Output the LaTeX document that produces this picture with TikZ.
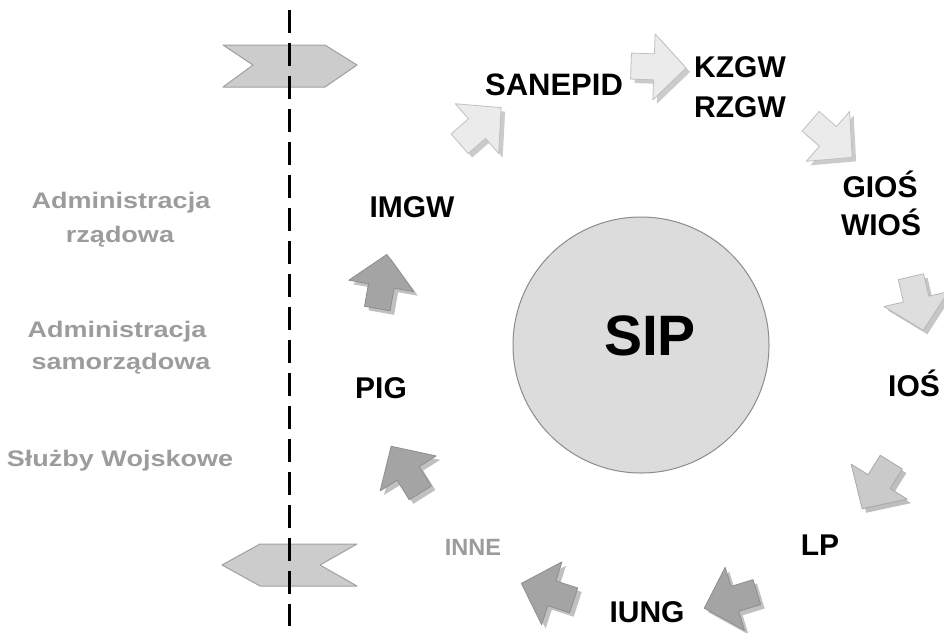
\documentclass[tikz,border=0pt]{standalone}
\usepackage{fontspec}
\setmainfont{Liberation Sans}
\newfontfamily\widesans[FakeStretch=1.2]{Liberation Sans}
\definecolor{sidegray}{HTML}{9C9C9C}
\definecolor{chevfill}{HTML}{CCCCCC}
\definecolor{chevdraw}{HTML}{A0A0A0}
\definecolor{circfill}{HTML}{DCDCDC}
\definecolor{circdraw}{HTML}{8C8C8C}
\definecolor{aLightF}{HTML}{EBEBEB}
\definecolor{aLightD}{HTML}{C0C0C0}
\definecolor{aLightS}{HTML}{CBCBCB}
\definecolor{aMidF}{HTML}{DEDEDE}
\definecolor{aMidD}{HTML}{B8B8B8}
\definecolor{aMidS}{HTML}{C6C6C6}
\definecolor{aMid2F}{HTML}{CACACA}
\definecolor{aMid2D}{HTML}{A8A8A8}
\definecolor{aMid2S}{HTML}{BEBEBE}
\definecolor{aDarkF}{HTML}{A4A4A4}
\definecolor{aDarkD}{HTML}{8E8E8E}
\definecolor{aDarkS}{HTML}{C0C0C0}
\newcommand{\cyclearrow}[5]{%
  \begin{scope}[shift={#1}]
    \fill[#5, shift={(4,4)}, rotate=#2] (-27,13) -- (-4,13) -- (-4,33) -- (28,0) -- (-4,-33) -- (-4,-13) -- (-27,-13) -- cycle;
    \filldraw[fill=#3, draw=#4, line width=0.8pt, line join=round, rotate=#2] (-27,13) -- (-4,13) -- (-4,33) -- (28,0) -- (-4,-33) -- (-4,-13) -- (-27,-13) -- cycle;
  \end{scope}}
\tikzset{
  lbl/.style={font=\fontsize{30}{36}\selectfont\bfseries, anchor=base, inner sep=0pt},
  side/.style={font=\widesans\fontsize{22.5}{27}\selectfont\bfseries, text=sidegray, anchor=base, inner sep=0pt},
  chev/.style={fill=chevfill, draw=chevdraw, line width=1pt, line join=round},
}
\begin{document}
\begin{tikzpicture}[x=1pt, y=-1pt]
\useasboundingbox (0,0) rectangle (944,632);
\fill[white] (0,0) rectangle (944,632);

% chevrons
\draw[chev] (223,45) -- (325,45) -- (357,65) -- (325,87) -- (223,87) -- (253,65) -- cycle;
\draw[chev] (260,544) -- (357,544) -- (320,565) -- (357,586) -- (260,586) -- (222,565) -- cycle;

% dashed divider
\coordinate (divtop) at (289,10);
\coordinate (divbot) at (289,626);
\draw[black, line width=3pt, dash pattern=on 23pt off 10pt] (divtop) -- (divbot);

% left labels
\node[side] (ar1) at (121,208) {Administracja};
\node[side] (ar2) at (120,242) {rządowa};
\node[side] (as1) at (117,337) {Administracja};
\node[side] (as2) at (121,369) {samorządowa};
\node[side] (sw) at (120,466) {Służby Wojskowe};

% central circle
\node[circle, fill=circfill, draw=circdraw, line width=1pt, minimum size=256pt, inner sep=0pt] (sipc) at (641,345) {};
\node[font=\fontsize{57}{60}\selectfont\bfseries, anchor=base, inner sep=0pt] (sip) at (650,355) {SIP};

% cycle labels
\node[lbl] (imgw) at (412,217) {IMGW};
\node[lbl, font=\fontsize{31}{36}\selectfont\bfseries] (sanepid) at (554,95) {SANEPID};
\node[lbl] (kzgw) at (740,77) {KZGW};
\node[lbl] (rzgw) at (740,117) {RZGW};
\node[lbl] (gios) at (880,197) {GIOŚ};
\node[lbl] (wios) at (881,235) {WIOŚ};
\node[lbl] (ios) at (914,396) {IOŚ};
\node[lbl] (lp) at (820,555) {LP};
\node[lbl] (iung) at (647,622) {IUNG};
\node[lbl, font=\fontsize{23.5}{28}\selectfont\bfseries, text=sidegray] (inne) at (473,555) {INNE};
\node[lbl] (pig) at (381,398) {PIG};

% cycle arrows
\cyclearrow{(480,126)}{41}{aLightF}{aLightD}{aLightS}
\cyclearrow{(658,67)}{-2}{aLightF}{aLightD}{aLightS}
\cyclearrow{(831,139)}{-41}{aLightF}{aLightD}{aLightS}
\cyclearrow{(917,303)}{-77}{aMidF}{aMidD}{aMidS}
\cyclearrow{(877,485)}{-122}{aMid2F}{aMid2D}{aMid2S}
\cyclearrow{(731,600)}{-163}{aDarkF}{aDarkD}{aDarkS}
\cyclearrow{(548,592)}{162}{aDarkF}{aDarkD}{aDarkS}
\cyclearrow{(406,470)}{122}{aDarkF}{aDarkD}{aDarkS}
\cyclearrow{(382,282)}{80}{aDarkF}{aDarkD}{aDarkS}
\end{tikzpicture}
\end{document}
